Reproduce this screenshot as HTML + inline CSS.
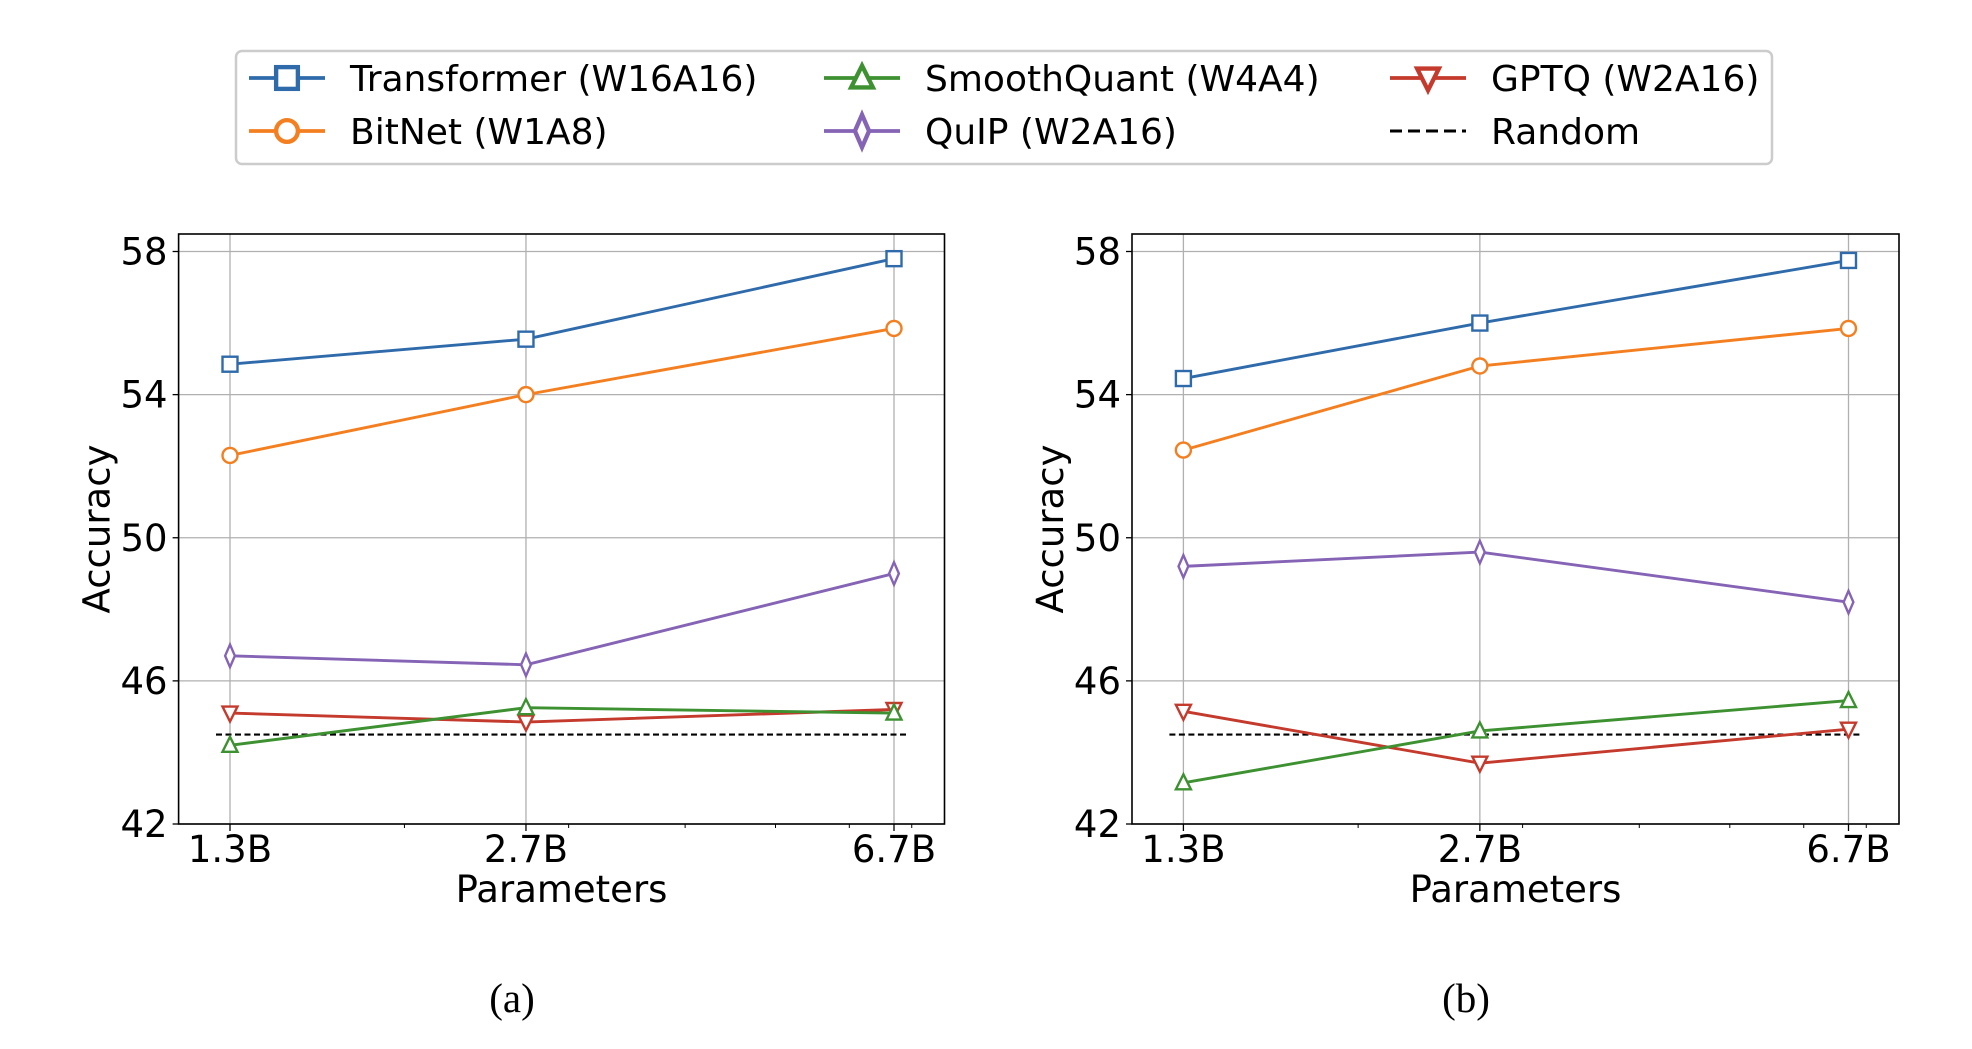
<!DOCTYPE html>
<html><head><meta charset="utf-8"><style>
html,body{margin:0;padding:0;background:#fff;}
svg text{font-family:"DejaVu Sans","Liberation Sans",sans-serif;}
</style></head><body>
<svg id="chart" width="1972" height="1044" viewBox="0 0 1972 1044" xmlns="http://www.w3.org/2000/svg">
<g id="legend">
<rect x="236" y="51" width="1536" height="113" rx="6" fill="#fff" stroke="#cccccc" stroke-width="2.5"/>
</g>
<text x="512" y="1012" text-anchor="middle" font-size="41" style="font-family:'Liberation Serif',serif">(a)</text>
<text x="1466" y="1012" text-anchor="middle" font-size="41" style="font-family:'Liberation Serif',serif">(b)</text>
</svg>
<script>
const categories = ["1.3B","2.7B","6.7B"];
const paramValues = [1.3, 2.7, 6.7];
const yTicks = [42, 46, 50, 54, 58];
const seriesNames = ["Transformer (W16A16)","BitNet (W1A8)","SmoothQuant (W4A4)","QuIP (W2A16)","GPTQ (W2A16)"];
const transformerA = [54.85, 55.55, 57.8];
const bitnetA = [52.3, 54.0, 55.85];
const smoothquantA = [44.2, 45.25, 45.1];
const quipA = [46.7, 46.45, 49.0];
const gptqA = [45.1, 44.85, 45.2];
const transformerB = [54.45, 56.0, 57.75];
const bitnetB = [52.45, 54.8, 55.85];
const smoothquantB = [43.15, 44.6, 45.45];
const quipB = [49.2, 49.6, 48.2];
const gptqB = [45.15, 43.7, 44.65];
const randomLevel = 44.5;

const NS = "http://www.w3.org/2000/svg";
const svg = document.getElementById('chart');
const colors = {transformer:"#2f6bab", bitnet:"#f47f20", smoothquant:"#3d9131", quip:"#8563b5", gptq:"#c43a2c"};
function mk(tag, attrs, parent){const e=document.createElementNS(NS,tag);for(const k in attrs)e.setAttribute(k,attrs[k]);(parent||svg).appendChild(e);return e;}

function marker(g, shape, cx, cy, color){
  const s=7.5; let e;
  if(shape==='square') e=mk('rect',{x:cx-s,y:cy-s,width:2*s,height:2*s},g);
  else if(shape==='circle') e=mk('circle',{cx:cx,cy:cy,r:s},g);
  else if(shape==='tri-up') e=mk('polygon',{points:`${cx},${cy-s-1} ${cx-s},${cy+s-1} ${cx+s},${cy+s-1}`},g);
  else if(shape==='tri-down') e=mk('polygon',{points:`${cx},${cy+s+1} ${cx-s},${cy-s+1} ${cx+s},${cy-s+1}`},g);
  else e=mk('polygon',{points:`${cx},${cy-s*1.5} ${cx-s*0.65},${cy} ${cx},${cy+s*1.5} ${cx+s*0.65},${cy}`},g);
  e.setAttribute('fill','#fff'); e.setAttribute('stroke',color); e.setAttribute('stroke-width','2.4');
  return e;
}

function panel(id, left, right, series){
  const top=234, bottom=824, yTop=251.5;
  const lnMin=Math.log(1.3), lnMax=Math.log(6.7);
  const x1=left+51.4, x2=right-50.5;
  const xs=v=>x1+(Math.log(v)-lnMin)/(lnMax-lnMin)*(x2-x1);
  const ys=v=>bottom-(v-42)/16*(bottom-yTop);
  const g=mk('g',{});
  
  
  yTicks.forEach(t=>{const l=mk('line',{x1:left,x2:right,y1:ys(t),y2:ys(t),stroke:'#b0b0b0','stroke-width':1.3},g);
     
    const tx=mk('text',{x:left-11,y:ys(t)+13,'text-anchor':'end','font-size':37,fill:'#000'},g); tx.textContent=t;
     
    mk('line',{x1:left-6,x2:left,y1:ys(t),y2:ys(t),stroke:'#000','stroke-width':1.3},g);
  });
  paramValues.forEach((v,i)=>{const l=mk('line',{x1:xs(v),x2:xs(v),y1:top,y2:bottom,stroke:'#b0b0b0','stroke-width':1.3},g);
     
    mk('line',{x1:xs(v),x2:xs(v),y1:bottom,y2:bottom+7,stroke:'#000','stroke-width':1.3},g);
    const tx=mk('text',{x:xs(v),y:bottom+38,'text-anchor':'middle','font-size':37,fill:'#000'},g); tx.textContent=categories[i];
     
  });
  [2,3,4,5,6,7].forEach(v=>{ if(Math.abs(v-paramValues[1])>0.05) mk('line',{x1:xs(v),x2:xs(v),y1:bottom,y2:bottom+4,stroke:'#000','stroke-width':1},g);});
  const rl=mk('line',{x1:xs(1.3)-14,x2:xs(6.7)+14,y1:ys(randomLevel),y2:ys(randomLevel),stroke:'#000','stroke-width':2.2,'stroke-dasharray':'6,3.5'},g);
   
  series.forEach(s=>{
    const pts=s.vals.map((v,i)=>xs(paramValues[i])+','+ys(v)).join(' ');
    const pl=mk('polyline',{points:pts,fill:'none',stroke:s.color,'stroke-width':2.9},g);
     
    s.vals.forEach((v,i)=>{const m=marker(g,s.shape,xs(paramValues[i]),ys(v),s.color);
       });
  });
  const fr=mk('rect',{x:left,y:top,width:right-left,height:bottom-top,fill:'none',stroke:'#000','stroke-width':1.6},g);
   
  const yl=mk('text',{x:0,y:0,'text-anchor':'middle','font-size':37,transform:`translate(${left-69},${(top+bottom)/2}) rotate(-90)`},g);
  yl.textContent='Accuracy';
   
  const xl=mk('text',{x:(left+right)/2,y:bottom+78,'text-anchor':'middle','font-size':37},g);
  xl.textContent='Parameters';
   
}
panel('a',178.6,944.5,[
  {key:'transformer',vals:transformerA,color:colors.transformer,shape:'square'},
  {key:'bitnet',vals:bitnetA,color:colors.bitnet,shape:'circle'},
  {key:'quip',vals:quipA,color:colors.quip,shape:'diamond'},
  {key:'gptq',vals:gptqA,color:colors.gptq,shape:'tri-down'},
  {key:'smoothquant',vals:smoothquantA,color:colors.smoothquant,shape:'tri-up'}]);
panel('b',1132,1899,[
  {key:'transformer',vals:transformerB,color:colors.transformer,shape:'square'},
  {key:'bitnet',vals:bitnetB,color:colors.bitnet,shape:'circle'},
  {key:'quip',vals:quipB,color:colors.quip,shape:'diamond'},
  {key:'gptq',vals:gptqB,color:colors.gptq,shape:'tri-down'},
  {key:'smoothquant',vals:smoothquantB,color:colors.smoothquant,shape:'tri-up'}]);

const lg=document.getElementById('legend');
const entries=[
  {name:seriesNames[0],color:colors.transformer,shape:'square',x:249,y:78},
  {name:seriesNames[1],color:colors.bitnet,shape:'circle',x:249,y:131},
  {name:seriesNames[2],color:colors.smoothquant,shape:'tri-up',x:824,y:78},
  {name:seriesNames[3],color:colors.quip,shape:'diamond',x:824,y:131},
  {name:seriesNames[4],color:colors.gptq,shape:'tri-down',x:1390,y:78},
  {name:'Random',color:'#000',shape:null,x:1390,y:131}];
entries.forEach(e=>{
  const g=mk('g',{},lg);
  
  
  if(e.shape){
    mk('line',{x1:e.x,x2:e.x+76,y1:e.y,y2:e.y,stroke:e.color,'stroke-width':3.8},g);
    const m=marker(g,e.shape,e.x+38,e.y,e.color); m.setAttribute('stroke-width','3');
    m.setAttribute('transform',`translate(${e.x+38},${e.y}) scale(1.45) translate(${-(e.x+38)},${-e.y})`);
  } else {
    mk('line',{x1:e.x,x2:e.x+76,y1:e.y,y2:e.y,stroke:'#000','stroke-width':3,'stroke-dasharray':'12,6'},g);
  }
  const t=mk('text',{x:e.x+101,y:e.y+13,'font-size':36,fill:'#000'},g);
  t.textContent=e.name;
});
</script>
</body></html>
